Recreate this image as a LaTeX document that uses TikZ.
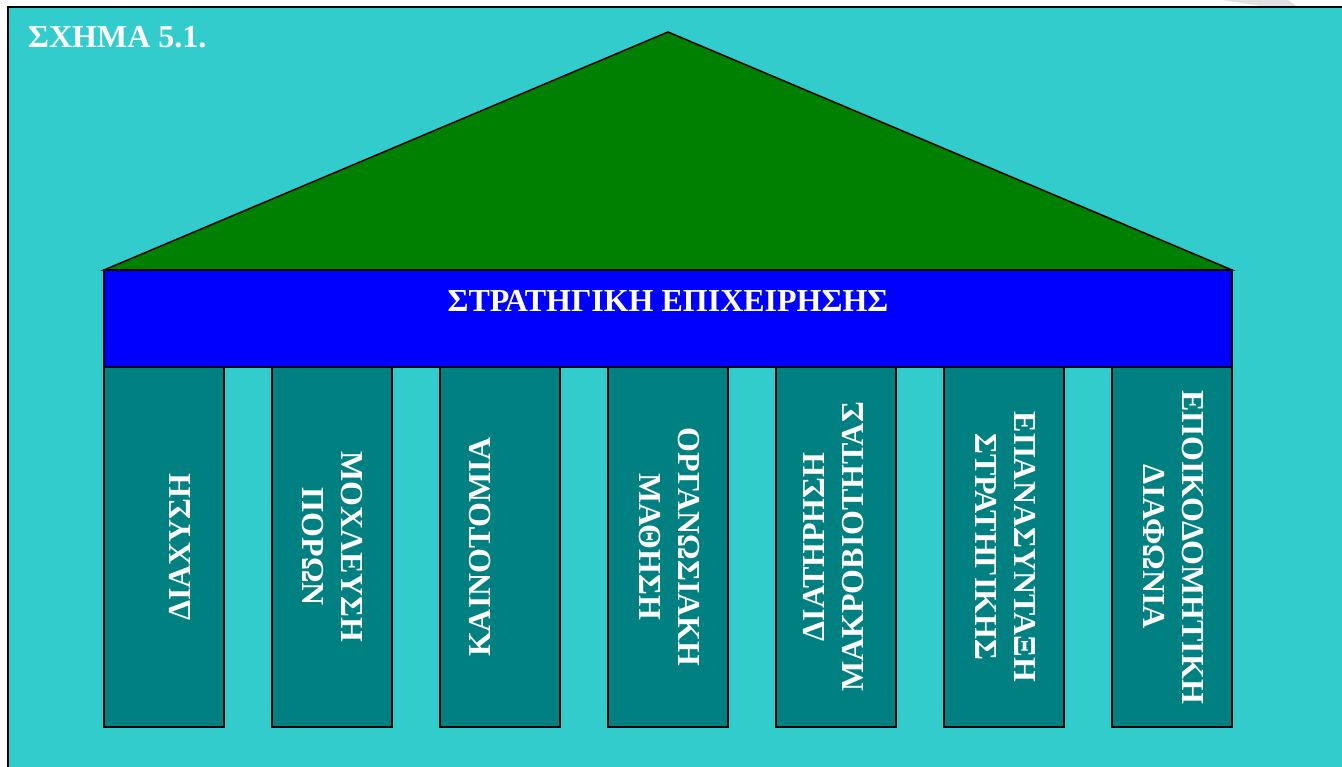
\documentclass[tikz,border=0pt]{standalone}
\usepackage{fontspec}
\setmainfont{Liberation Serif}
\definecolor{bgcyan}{HTML}{33CCCC}
\definecolor{roofgreen}{HTML}{008000}
\definecolor{bandblue}{HTML}{0000FF}
\definecolor{colteal}{HTML}{008080}
\begin{document}
\begin{tikzpicture}[x=1pt,y=-1pt,
  lbl/.style={text=white,font=\fontsize{32}{39}\selectfont\bfseries,inner sep=0pt,align=center},
  colbox/.style={draw=black,line width=1.5pt,fill=colteal}]
\useasboundingbox (0,0) rectangle (1342,767);
\clip (0,0) rectangle (1342,767);
\fill[white] (0,0) rectangle (1342,767);
\fill[black!12] (1222,0) -- (1288,0) -- (1296,6) -- (1262,6) -- cycle;
\draw[fill=bgcyan,line width=2.5pt] (8,7) rectangle (1370,800);
\node[lbl,anchor=base west] (title) at (28,48) {ΣΧΗΜΑ 5.1.};
\draw[fill=roofgreen,line width=1.5pt] (104,270) -- (668,32) -- (1232,270) -- cycle;
\draw[fill=bandblue,line width=2pt] (104,270) rectangle (1232,367);
\node[lbl] (band) at (668,301) {ΣΤΡΑΤΗΓΙΚΗ ΕΠΙΧΕΙΡΗΣΗΣ};
\foreach \i in {0,...,6}
  \draw[colbox] ({104+168*\i},367) rectangle ({224+168*\i},727);
\node[lbl,rotate=90] (c1) at (180,547) {ΔΙΑΧΥΣΗ};
\node[lbl,rotate=-90] (c2) at (332.5,547) {ΜΟΧΛΕΥΣΗ\\ΠΟΡΩΝ};
\node[lbl,rotate=90] (c3) at (480,547) {ΚΑΙΝΟΤΟΜΙΑ};
\node[lbl,rotate=-90] (c4) at (669,547) {ΟΡΓΑΝΩΣΙΑΚΗ\\ΜΑΘΗΣΗ};
\node[lbl,rotate=90] (c5) at (834,547) {ΔΙΑΤΗΡΗΣΗ\\ΜΑΚΡΟΒΙΟΤΗΤΑΣ};
\node[lbl,rotate=-90] (c6) at (1006,547) {ΕΠΑΝΑΣΥΝΤΑΞΗ\\ΣΤΡΑΤΗΓΙΚΗΣ};
\node[lbl,rotate=-90] (c7) at (1174,547) {ΕΠΟΙΚΟΔΟΜΗΤΙΚΗ\\ΔΙΑΦΩΝΙΑ};
\end{tikzpicture}
\end{document}
